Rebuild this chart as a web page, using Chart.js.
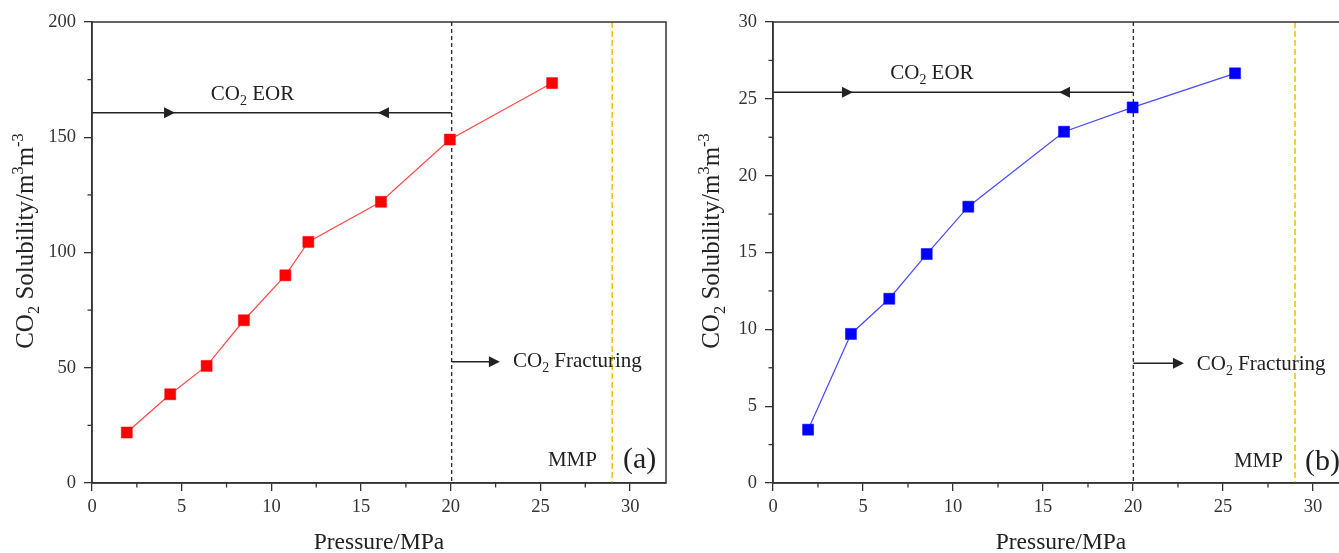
<!DOCTYPE html>
<html>
<head>
<meta charset="utf-8">
<script src="https://cdn.jsdelivr.net/npm/chart.js@4.4.1/dist/chart.umd.min.js"></script>
<style>
  html, body { margin: 0; padding: 0; background: #fff; overflow: hidden; }
  #wrap { position: relative; width: 1339px; height: 553px; overflow: hidden; }
  canvas { position: absolute; top: 0; }
  #chartA { left: 0; }
  #chartB { left: 680px; }
</style>
</head>
<body>
<div id="wrap">
  <canvas id="chartA" width="680" height="553"></canvas>
  <canvas id="chartB" width="680" height="553"></canvas>
</div>
<script>
/* ======================================================
   DATA
====================================================== */

// panel (a)
const pressureA   = [1.94, 4.36, 6.39, 8.47, 10.78, 12.06, 16.11, 19.95, 25.65];
const solubilityA = [21.9, 38.5, 50.8, 70.6, 90.1, 104.6, 122.0, 149.0, 173.5];

// panel (b)
const pressureB   = [1.95, 4.33, 6.46, 8.54, 10.85, 16.17, 19.98, 25.67];
const solubilityB = [3.47, 9.70, 11.99, 14.9, 17.98, 22.86, 24.44, 26.66];

// ticks
const xTicks       = [0, 5, 10, 15, 20, 25, 30];
const xMinorTicks  = [2.5, 7.5, 12.5, 17.5, 22.5, 27.5];
const yTicksA      = [0, 50, 100, 150, 200];
const yMinorTicksA = [25, 75, 125, 175];
const yTicksB      = [0, 5, 10, 15, 20, 25, 30];
const yMinorTicksB = [2.5, 7.5, 12.5, 17.5, 22.5, 27.5];

/* ======================================================
   HELPERS
====================================================== */

const FONT = "'Liberation Serif', 'Times New Roman', serif";
const INK = "#222";
const AXIS = "#333";

// parts: [text, mode]  mode 0 normal, 1 subscript, 2 superscript
function drawRich(ctx, parts, x, y, size, align) {
  const fontFor = m => (m ? size * 0.66 : size) + "px " + FONT;
  let w = 0;
  parts.forEach(([t, m]) => { ctx.font = fontFor(m); w += ctx.measureText(t).width; });
  let cx = align === "center" ? x - w / 2 : align === "right" ? x - w : x;
  ctx.textBaseline = "alphabetic";
  ctx.textAlign = "left";
  parts.forEach(([t, m]) => {
    ctx.font = fontFor(m);
    const dy = m === 1 ? size * 0.24 : m === 2 ? -size * 0.42 : 0;
    ctx.fillText(t, cx, y + dy);
    cx += ctx.measureText(t).width;
  });
}

function seg(ctx, x1, y1, x2, y2) {
  ctx.beginPath();
  ctx.moveTo(x1, y1);
  ctx.lineTo(x2, y2);
  ctx.stroke();
}

function arrowHead(ctx, x, y, dir) {
  ctx.beginPath();
  ctx.moveTo(x, y);
  ctx.lineTo(x - dir * 11, y - 5.5);
  ctx.lineTo(x - dir * 11, y + 5.5);
  ctx.closePath();
  ctx.fill();
}

/* ======================================================
   PANEL PLUGIN (frame, minor ticks, annotations, titles)
====================================================== */

const panelPlugin = {
  id: "panel",
  beforeDatasetsDraw(chart, args, o) {
    const { ctx, chartArea: a, scales: { x, y } } = chart;
    ctx.save();

    // zone boundary
    ctx.strokeStyle = AXIS;
    ctx.lineWidth = 1.4;
    ctx.setLineDash([4, 3]);
    const bx = x.getPixelForValue(o.boundary);
    seg(ctx, bx, a.top, bx, a.bottom);

    // MMP line
    ctx.strokeStyle = "#f5b400";
    ctx.setLineDash([6, 3]);
    const mx = x.getPixelForValue(o.mmp);
    seg(ctx, mx, a.top, mx, a.bottom);
    ctx.setLineDash([]);

    // EOR range arrow
    ctx.strokeStyle = INK;
    ctx.fillStyle = INK;
    ctx.lineWidth = 1.5;
    const ey = y.getPixelForValue(o.eorY);
    seg(ctx, a.left, ey, bx, ey);
    arrowHead(ctx, x.getPixelForValue(o.eorTips[0]), ey, 1);
    arrowHead(ctx, x.getPixelForValue(o.eorTips[1]), ey, -1);

    // fracturing arrow
    const fy = y.getPixelForValue(o.fracY);
    const ft = x.getPixelForValue(o.fracTip);
    seg(ctx, bx, fy, ft - 4, fy);
    arrowHead(ctx, ft, fy, 1);
    ctx.restore();
  },
  afterDraw(chart, args, o) {
    const { ctx, chartArea: a, scales: { x, y } } = chart;
    ctx.save();

    // minor ticks
    ctx.strokeStyle = AXIS;
    ctx.lineWidth = 1.3;
    xMinorTicks.forEach(v => {
      const px = x.getPixelForValue(v);
      seg(ctx, px, a.bottom, px, a.bottom + 4.5);
    });
    o.yMinor.forEach(v => {
      const py = y.getPixelForValue(v);
      seg(ctx, a.left - 4.5, py, a.left, py);
    });

    // frame
    ctx.lineWidth = 1.5;
    ctx.strokeRect(a.left, a.top, a.right - a.left, a.bottom - a.top);

    // annotation texts
    ctx.fillStyle = INK;
    drawRich(ctx, [["CO", 0], ["2", 1], [" EOR", 0]],
      x.getPixelForValue(o.eorText[0]), y.getPixelForValue(o.eorText[1]), 21, "center");
    drawRich(ctx, [["CO", 0], ["2", 1], [" Fracturing", 0]],
      x.getPixelForValue(o.fracText[0]), y.getPixelForValue(o.fracText[1]), 21, "left");
    drawRich(ctx, [["MMP", 0]],
      x.getPixelForValue(o.mmpText[0]), y.getPixelForValue(o.mmpText[1]), 21, "right");
    drawRich(ctx, [[o.tag, 0]],
      x.getPixelForValue(o.tagPos[0]), y.getPixelForValue(o.tagPos[1]), 30, "left");

    // axis titles
    drawRich(ctx, [["Pressure/MPa", 0]], (a.left + a.right) / 2, 549, 23.5, "center");
    ctx.translate(o.yTitleX, 241);
    ctx.rotate(-Math.PI / 2);
    drawRich(ctx, [["CO", 0], ["2", 1], [" Solubility/m", 0], ["3", 2], ["m", 0], ["-3", 2]],
      0, 0, 25, "center");
    ctx.restore();
  }
};

/* ======================================================
   CHARTS
====================================================== */

function createPanel(id, xs, ys, markColor, lineColor, yTicks, yMax, yWidth, padRight, panel) {
  const ctx = document.getElementById(id);
  return new Chart(ctx, {
    type: "scatter",
    data: {
      datasets: [{
        data: xs.map((v, i) => ({ x: v, y: ys[i] })),
        showLine: true,
        borderColor: lineColor,
        borderWidth: 1.2,
        pointStyle: "rect",
        pointRadius: 7.8,
        pointHoverRadius: 7.8,
        pointBackgroundColor: markColor,
        pointBorderColor: markColor,
        pointBorderWidth: 0.5
      }]
    },
    options: {
      responsive: false,
      animation: false,
      layout: { padding: { top: 22, right: padRight, left: 0, bottom: 0 } },
      plugins: {
        legend: { display: false },
        tooltip: { enabled: false },
        panel
      },
      scales: {
        x: {
          type: "linear",
          min: 0,
          max: 32,
          afterBuildTicks: s => { s.ticks = xTicks.map(v => ({ value: v })); },
          afterFit: s => { s.height = 70; },
          grid: { drawOnChartArea: false, drawTicks: true, tickLength: 8, color: AXIS, lineWidth: 1.3 },
          border: { display: true, color: AXIS, width: 1.5 },
          ticks: { color: AXIS, font: { family: FONT, size: 18.5 }, padding: 5, maxRotation: 0, autoSkip: false }
        },
        y: {
          type: "linear",
          min: 0,
          max: yMax,
          afterBuildTicks: s => { s.ticks = yTicks.map(v => ({ value: v })); },
          afterFit: s => { s.width = yWidth; },
          grid: { drawOnChartArea: false, drawTicks: true, tickLength: 8, color: AXIS, lineWidth: 1.3 },
          border: { display: true, color: AXIS, width: 1.5 },
          ticks: { color: AXIS, font: { family: FONT, size: 18.5 }, padding: 8, autoSkip: false }
        }
      }
    },
    plugins: [panelPlugin]
  });
}

createPanel("chartA", pressureA, solubilityA, "#ff0000", "#ff4a4a", yTicksA, 200, 92, 14, {
  boundary: 20.05, mmp: 29,
  eorY: 160.6, eorTips: [4.63, 15.94], eorText: [8.95, 166.2],
  fracY: 52.6, fracTip: 22.74, fracText: [23.47, 50.5],
  mmpText: [28.15, 7.5], tag: "(a)", tagPos: [29.6, 6.5],
  yMinor: yMinorTicksA, yTitleX: 33
});

createPanel("chartB", pressureB, solubilityB, "#0000ff", "#4a4aff", yTicksB, 30, 93, 11, {
  boundary: 20.02, mmp: 29,
  eorY: 25.43, eorTips: [4.44, 15.89], eorText: [8.83, 26.28],
  fracY: 7.8, fracTip: 22.83, fracText: [23.54, 7.35],
  mmpText: [28.33, 1.06], tag: "(b)", tagPos: [29.56, 0.85],
  yMinor: yMinorTicksB, yTitleX: 39
});
</script>
</body>
</html>
